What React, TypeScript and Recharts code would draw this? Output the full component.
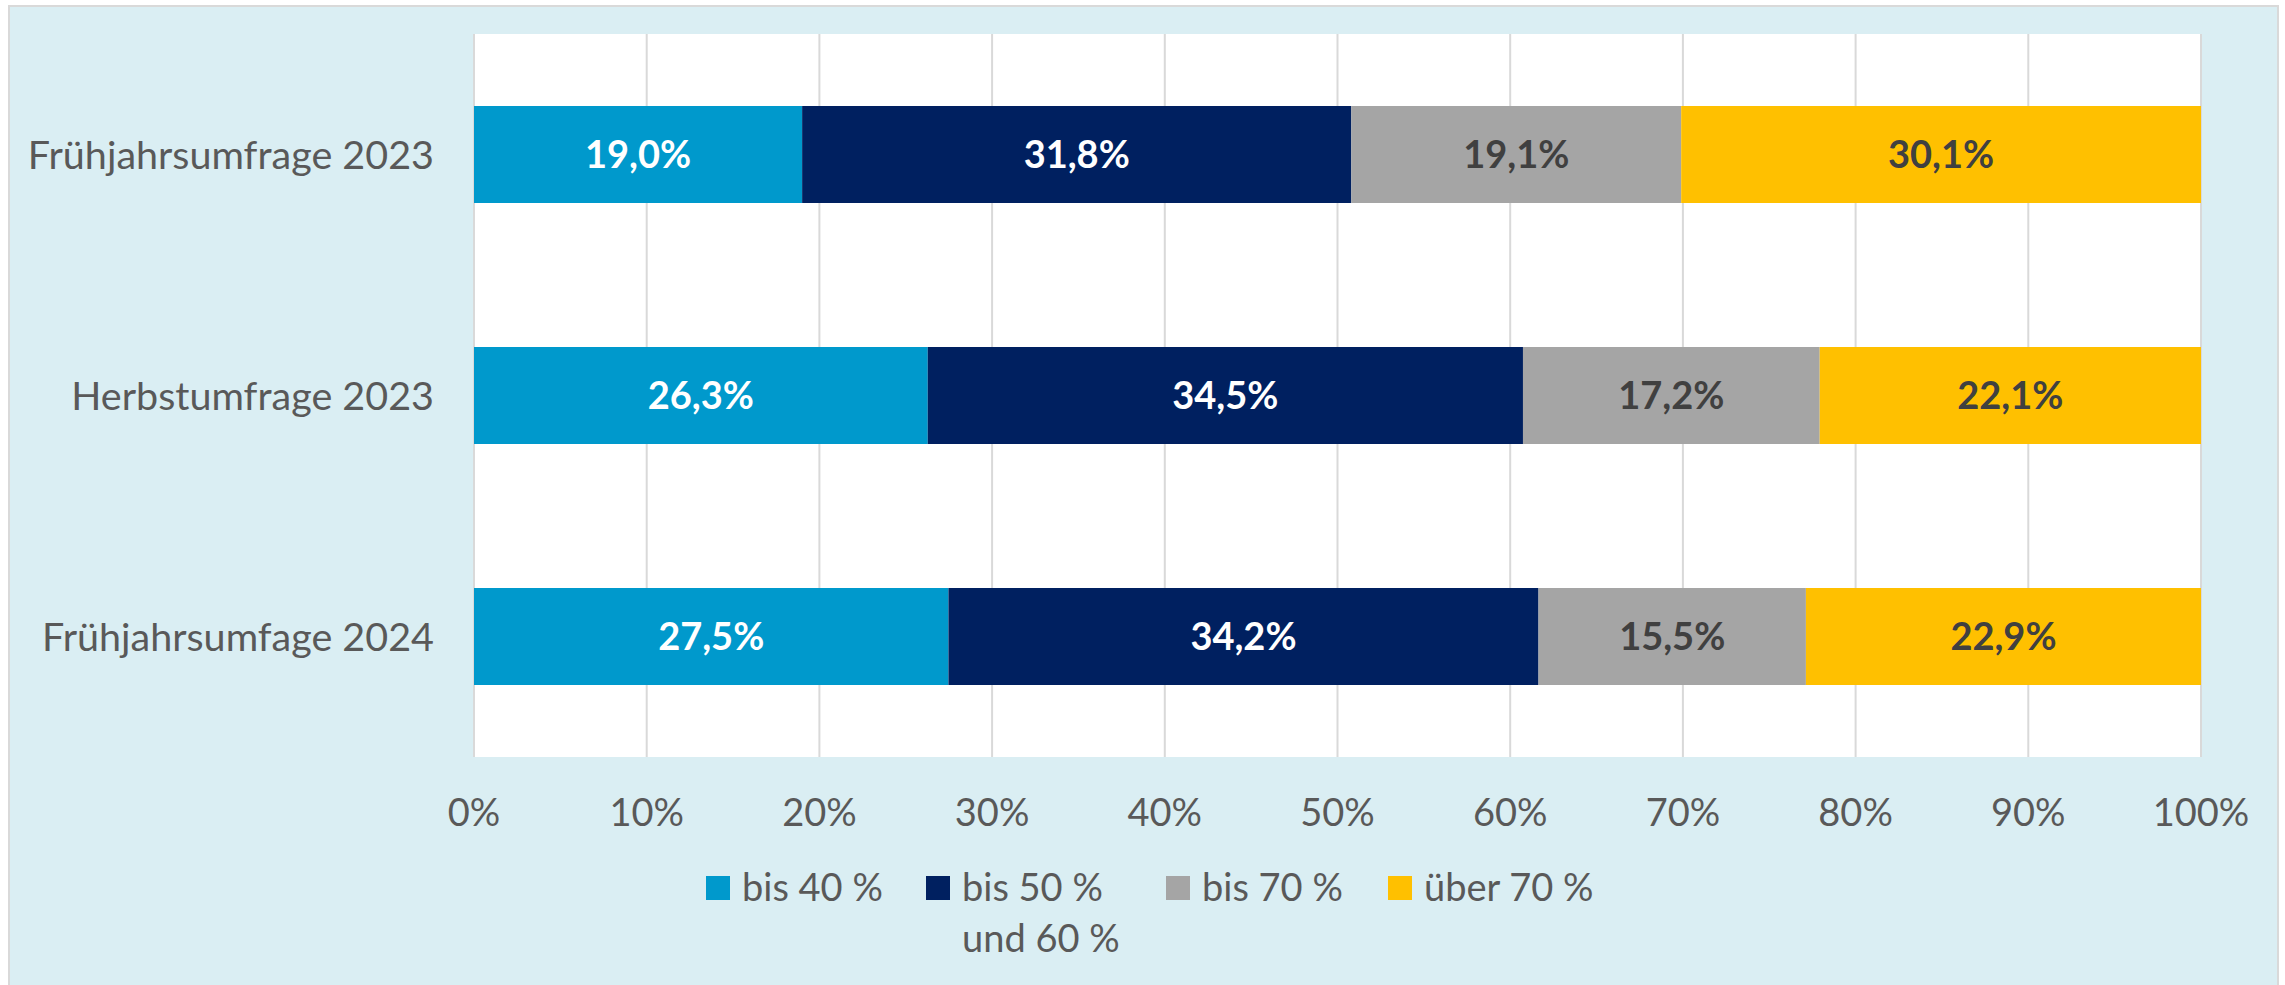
import React from 'react';
import { BarChart, Bar, XAxis, YAxis, CartesianGrid, LabelList, Legend } from 'recharts';

const categories = ['Frühjahrsumfrage 2023', 'Herbstumfrage 2023', 'Frühjahrsumfage 2024'];
const bis40 = [19.0, 26.3, 27.5];
const bis50und60 = [31.8, 34.5, 34.2];
const bis70 = [19.1, 17.2, 15.5];
const ueber70 = [30.1, 22.1, 22.9];
const seriesNames = ['bis 40 %', 'bis 50 % und 60 %', 'bis 70 %', 'über 70 %'];
const xTickValues = [0, 10, 20, 30, 40, 50, 60, 70, 80, 90, 100];

const data = categories.map((c, i) => ({
  name: c,
  s1: bis40[i],
  s2: bis50und60[i],
  s3: bis70[i],
  s4: ueber70[i],
}));

const FONT = 'Lato, "Open Sans", sans-serif';
const TEXT = '#595959';
const colors = ['#0099CC', '#002060', '#A5A5A5', '#FFC000'];
const labelColors = ['#FFFFFF', '#FFFFFF', '#404040', '#404040'];
const keys = ['s1', 's2', 's3', 's4'];

const fmt = (v: any) => `${Number(v).toFixed(1).replace('.', ',')}%`;

const itemWidths = [220, 240, 222, 300];

const LegendContent = (props: any) => {
  const payload = props.payload || [];
  return (
    <div style={{ display: 'flex', alignItems: 'flex-start', paddingLeft: 706, fontFamily: FONT }}>
      {payload.map((p: any, i: number) => (
        <div key={i} style={{ display: 'flex', alignItems: 'flex-start', width: itemWidths[i] }}>
          <div style={{ width: 24, height: 24, background: p.color, marginTop: 15, flex: '0 0 auto' }} />
          <div style={{ marginLeft: 12, fontSize: 38, lineHeight: '51px', color: TEXT, maxWidth: 175, whiteSpace: 'normal' }}>
            {p.value}
          </div>
        </div>
      ))}
    </div>
  );
};

export default function App() {
  return (
    <div style={{ position: 'absolute', left: 0, top: 0, width: 2285, height: 985, overflow: 'hidden' }}>
      <div
        style={{
          position: 'absolute',
          left: 8,
          top: 5,
          width: 2271,
          height: 995,
          boxSizing: 'border-box',
          border: '2px solid #D9D9D9',
          background: '#DAEEF3',
        }}
      />
      <div style={{ position: 'absolute', left: 0, top: 0 }}>
        <BarChart
          width={2285}
          height={985}
          data={data}
          layout="vertical"
          stackOffset="expand"
          margin={{ top: 34, right: 84, bottom: 168, left: 0 }}
        >
          <CartesianGrid horizontal={false} vertical={true} stroke="#D9D9D9" strokeWidth={2} fill="#FFFFFF" />
          <XAxis
            type="number"
            domain={[0, 1]}
            ticks={xTickValues.map((v) => v / 100)}
            tickFormatter={(v: number) => `${Math.round(v * 100)}%`}
            axisLine={false}
            tickLine={false}
            tickSize={0}
            tickMargin={42}
            height={60}
            interval={0}
            tick={{ fill: TEXT, fontSize: 38, fontFamily: FONT }}
          />
          <YAxis
            type="category"
            dataKey="name"
            width={474}
            axisLine={false}
            tickLine={false}
            tickSize={0}
            tickMargin={40}
            interval={0}
            tick={{ fill: TEXT, fontSize: 39.5, fontFamily: FONT }}
          />
          <Legend
            verticalAlign="middle"
            layout="horizontal"
            content={<LegendContent />}
            wrapperStyle={{ top: 860.5, left: 0, width: 2285, bottom: 'auto' }}
          />
          {keys.map((k, i) => (
            <Bar key={k} dataKey={k} name={seriesNames[i]} stackId="a" fill={colors[i]} barSize={97} isAnimationActive={false}>
              <LabelList
                dataKey={k}
                position="center"
                formatter={fmt}
                fill={labelColors[i]}
                style={{ fontSize: 38, fontWeight: 700, fontFamily: FONT }}
              />
            </Bar>
          ))}
        </BarChart>
      </div>
    </div>
  );
}
